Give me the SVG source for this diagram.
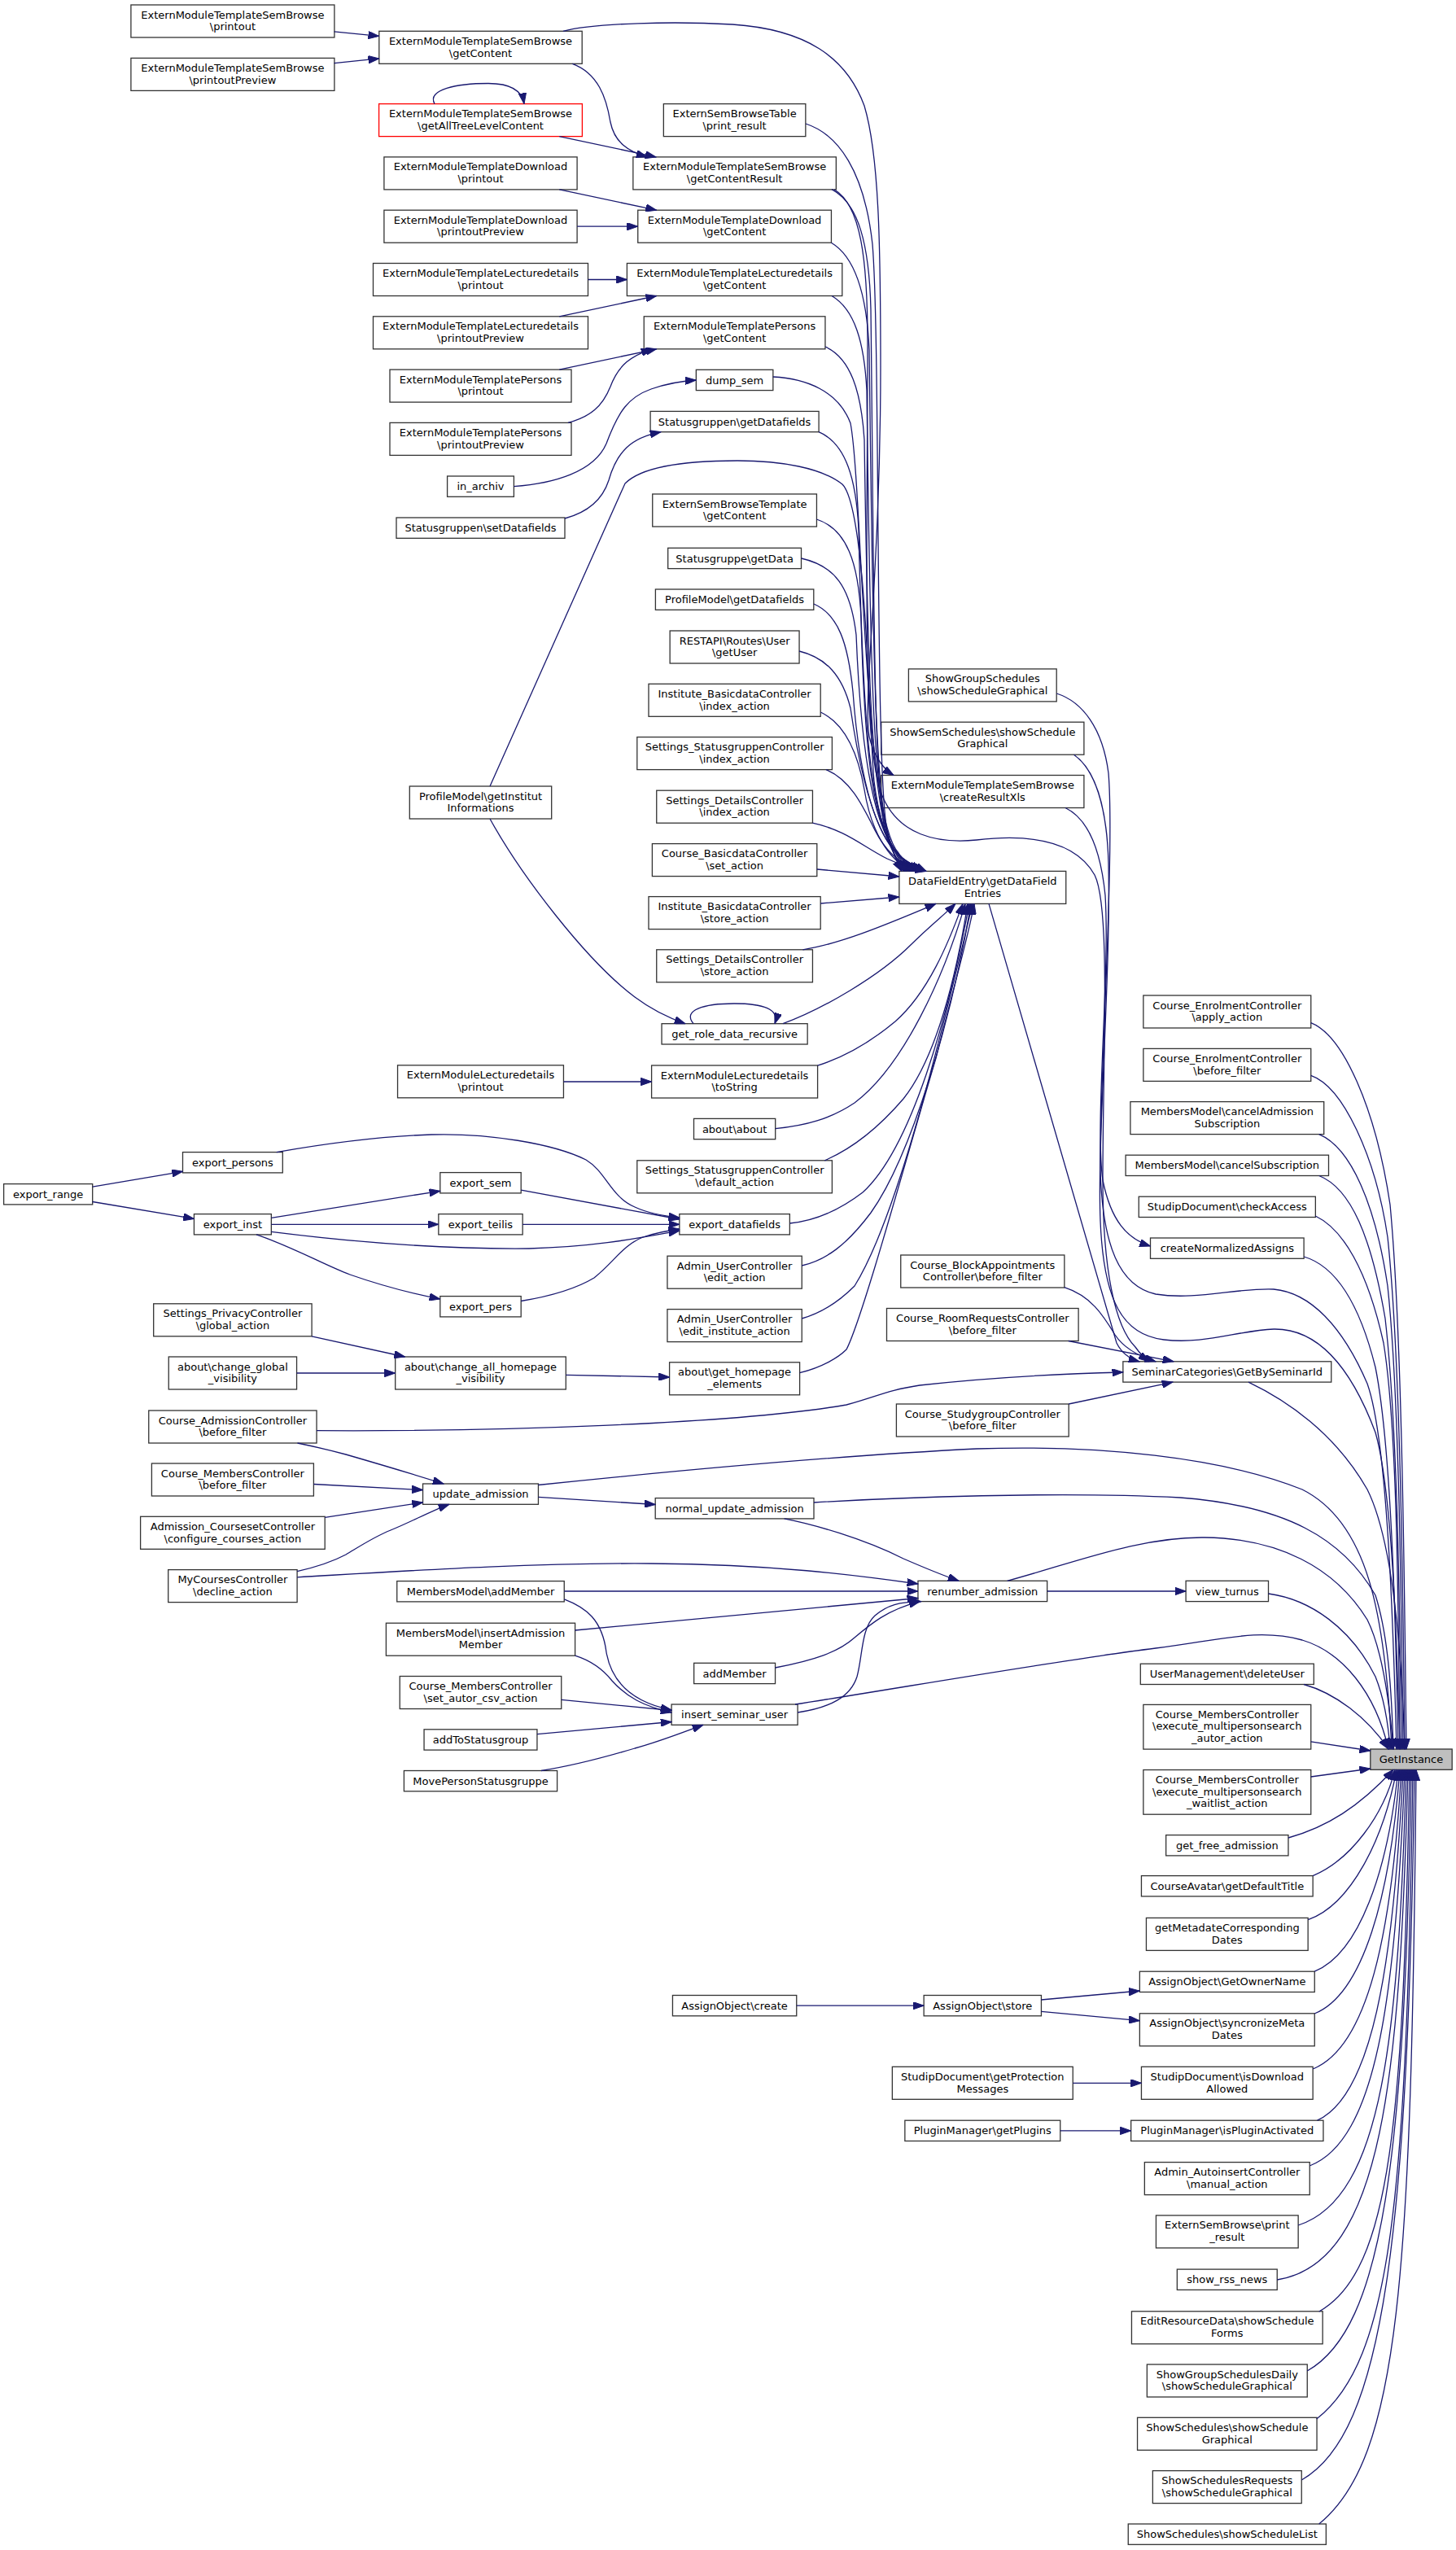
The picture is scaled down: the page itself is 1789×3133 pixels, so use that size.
<svg xmlns="http://www.w3.org/2000/svg" width="1789" height="3133" viewBox="0 0 1789 3133">
<defs>
<marker id="ah" markerUnits="userSpaceOnUse" markerWidth="14" markerHeight="9.4" viewBox="0 0 14 9.4" refX="13.3" refY="4.7" orient="auto"><path d="M0,0 L13.3,4.7 L0,9.4 z" fill="#191970" stroke="#191970" stroke-width="1"/></marker>
</defs>
<style>
.n rect{fill:#fff;stroke:#333;stroke-width:1.3}
.n text{font-family:"DejaVu Sans","Liberation Sans",sans-serif;font-size:13px;text-anchor:middle;fill:#000}
.red rect{stroke:#ff0000}
.root rect{fill:#bfbfbf;stroke:#333}
#edges path{fill:none;stroke:#191970;stroke-width:1.3;marker-end:url(#ah)}
</style>
<rect width="1789" height="3133" fill="#fff"/>
<g id="nodes">
<g id="n1" class="n"><rect x="160.9" y="6" width="250" height="40"/><text x="285.9" y="22.5">ExternModuleTemplateSemBrowse<tspan x="285.9" dy="14.7">\printout</tspan></text></g>
<g id="n2" class="n"><rect x="160.9" y="71.4" width="250" height="40"/><text x="285.9" y="87.9">ExternModuleTemplateSemBrowse<tspan x="285.9" dy="14.7">\printoutPreview</tspan></text></g>
<g id="n3" class="n"><rect x="465.8" y="38.3" width="249.4" height="40"/><text x="590.5" y="54.8">ExternModuleTemplateSemBrowse<tspan x="590.5" dy="14.7">\getContent</tspan></text></g>
<g id="n4" class="n red"><rect x="465.6" y="127.6" width="249.8" height="40"/><text x="590.5" y="144.1">ExternModuleTemplateSemBrowse<tspan x="590.5" dy="14.7">\getAllTreeLevelContent</tspan></text></g>
<g id="n5" class="n"><rect x="471.9" y="192.9" width="237.2" height="40"/><text x="590.5" y="209.4">ExternModuleTemplateDownload<tspan x="590.5" dy="14.7">\printout</tspan></text></g>
<g id="n6" class="n"><rect x="471.9" y="258.2" width="237.2" height="40"/><text x="590.5" y="274.7">ExternModuleTemplateDownload<tspan x="590.5" dy="14.7">\printoutPreview</tspan></text></g>
<g id="n7" class="n"><rect x="458.5" y="323.5" width="264" height="40"/><text x="590.5" y="340">ExternModuleTemplateLecturedetails<tspan x="590.5" dy="14.7">\printout</tspan></text></g>
<g id="n8" class="n"><rect x="458.5" y="388.8" width="264" height="40"/><text x="590.5" y="405.3">ExternModuleTemplateLecturedetails<tspan x="590.5" dy="14.7">\printoutPreview</tspan></text></g>
<g id="n9" class="n"><rect x="479" y="454.1" width="223" height="40"/><text x="590.5" y="470.6">ExternModuleTemplatePersons<tspan x="590.5" dy="14.7">\printout</tspan></text></g>
<g id="n10" class="n"><rect x="479" y="519.4" width="223" height="40"/><text x="590.5" y="535.9">ExternModuleTemplatePersons<tspan x="590.5" dy="14.7">\printoutPreview</tspan></text></g>
<g id="n11" class="n"><rect x="549.6" y="585" width="81.8" height="25.3"/><text x="590.5" y="602.2">in_archiv</text></g>
<g id="n12" class="n"><rect x="487" y="636" width="207" height="25.3"/><text x="590.5" y="653.2">Statusgruppen\setDatafields</text></g>
<g id="m1" class="n"><rect x="815.35" y="127.6" width="174.5" height="40"/><text x="902.6" y="144.1">ExternSemBrowseTable<tspan x="902.6" dy="14.7">\print_result</tspan></text></g>
<g id="m2" class="n"><rect x="777.85" y="192.9" width="249.5" height="40"/><text x="902.6" y="209.4">ExternModuleTemplateSemBrowse<tspan x="902.6" dy="14.7">\getContentResult</tspan></text></g>
<g id="m3" class="n"><rect x="783.75" y="258.2" width="237.7" height="40"/><text x="902.6" y="274.7">ExternModuleTemplateDownload<tspan x="902.6" dy="14.7">\getContent</tspan></text></g>
<g id="m4" class="n"><rect x="770.4" y="323.5" width="264.4" height="40"/><text x="902.6" y="340">ExternModuleTemplateLecturedetails<tspan x="902.6" dy="14.7">\getContent</tspan></text></g>
<g id="m5" class="n"><rect x="791.25" y="388.8" width="222.7" height="40"/><text x="902.6" y="405.3">ExternModuleTemplatePersons<tspan x="902.6" dy="14.7">\getContent</tspan></text></g>
<g id="m6" class="n"><rect x="855.35" y="454.3" width="94.5" height="25.3"/><text x="902.6" y="471.5">dump_sem</text></g>
<g id="m7" class="n"><rect x="799.1" y="505.4" width="207" height="25.3"/><text x="902.6" y="522.6">Statusgruppen\getDatafields</text></g>
<g id="m8" class="n"><rect x="801.75" y="607" width="201.7" height="40"/><text x="902.6" y="623.5">ExternSemBrowseTemplate<tspan x="902.6" dy="14.7">\getContent</tspan></text></g>
<g id="m9" class="n"><rect x="820.7" y="673.3" width="163.8" height="25.3"/><text x="902.6" y="690.5">Statusgruppe\getData</text></g>
<g id="m10" class="n"><rect x="805.4" y="724" width="194.4" height="25.3"/><text x="902.6" y="741.2">ProfileModel\getDatafields</text></g>
<g id="m11" class="n"><rect x="823.15" y="775" width="158.9" height="40"/><text x="902.6" y="791.5">RESTAPI\Routes\User<tspan x="902.6" dy="14.7">\getUser</tspan></text></g>
<g id="m12" class="n"><rect x="797" y="840.3" width="211.2" height="40"/><text x="902.6" y="856.8">Institute_BasicdataController<tspan x="902.6" dy="14.7">\index_action</tspan></text></g>
<g id="m13" class="n"><rect x="782.8" y="905.6" width="239.6" height="40"/><text x="902.6" y="922.1">Settings_StatusgruppenController<tspan x="902.6" dy="14.7">\index_action</tspan></text></g>
<g id="m14" class="n"><rect x="806.75" y="971.2" width="191.7" height="40"/><text x="902.6" y="987.7">Settings_DetailsController<tspan x="902.6" dy="14.7">\index_action</tspan></text></g>
<g id="m15" class="n"><rect x="801.4" y="1036.6" width="202.4" height="40"/><text x="902.6" y="1053.1">Course_BasicdataController<tspan x="902.6" dy="14.7">\set_action</tspan></text></g>
<g id="m16" class="n"><rect x="797" y="1101.6" width="211.2" height="40"/><text x="902.6" y="1118.1">Institute_BasicdataController<tspan x="902.6" dy="14.7">\store_action</tspan></text></g>
<g id="m17" class="n"><rect x="806.75" y="1166.8" width="191.7" height="40"/><text x="902.6" y="1183.3">Settings_DetailsController<tspan x="902.6" dy="14.7">\store_action</tspan></text></g>
<g id="m18" class="n"><rect x="813.05" y="1257.7" width="179.1" height="25.3"/><text x="902.6" y="1274.9">get_role_data_recursive</text></g>
<g id="m19" class="n"><rect x="800.6" y="1309" width="204" height="40"/><text x="902.6" y="1325.5">ExternModuleLecturedetails<tspan x="902.6" dy="14.7">\toString</tspan></text></g>
<g id="m20" class="n"><rect x="852.5" y="1374.4" width="100.2" height="25.3"/><text x="902.6" y="1391.6">about\about</text></g>
<g id="m21" class="n"><rect x="782.8" y="1425.8" width="239.6" height="40"/><text x="902.6" y="1442.3">Settings_StatusgruppenController<tspan x="902.6" dy="14.7">\default_action</tspan></text></g>
<g id="m22" class="n"><rect x="834.85" y="1491.6" width="135.5" height="25.3"/><text x="902.6" y="1508.8">export_datafields</text></g>
<g id="m23" class="n"><rect x="819.95" y="1543.2" width="165.3" height="40"/><text x="902.6" y="1559.7">Admin_UserController<tspan x="902.6" dy="14.7">\edit_action</tspan></text></g>
<g id="m24" class="n"><rect x="819.95" y="1608.6" width="165.3" height="40"/><text x="902.6" y="1625.1">Admin_UserController<tspan x="902.6" dy="14.7">\edit_institute_action</tspan></text></g>
<g id="m25" class="n"><rect x="822.6" y="1673.8" width="160" height="40"/><text x="902.6" y="1690.3">about\get_homepage<tspan x="902.6" dy="14.7">_elements</tspan></text></g>
<g id="l9" class="n"><rect x="805.2" y="1840.6" width="194.8" height="25.3"/><text x="902.6" y="1857.8">normal_update_admission</text></g>
<g id="l15" class="n"><rect x="852.65" y="2043.3" width="99.9" height="25.3"/><text x="902.6" y="2060.5">addMember</text></g>
<g id="l16" class="n"><rect x="825.1" y="2094" width="155" height="25.3"/><text x="902.6" y="2111.2">insert_seminar_user</text></g>
<g id="r9" class="n"><rect x="826.45" y="2451.5" width="152.3" height="25.3"/><text x="902.6" y="2468.7">AssignObject\create</text></g>
<g id="n13" class="n"><rect x="503.3" y="966" width="174.4" height="40"/><text x="590.5" y="982.5">ProfileModel\getInstitut<tspan x="590.5" dy="14.7">Informations</tspan></text></g>
<g id="n14" class="n"><rect x="488.55" y="1308.8" width="203.9" height="40"/><text x="590.5" y="1325.3">ExternModuleLecturedetails<tspan x="590.5" dy="14.7">\printout</tspan></text></g>
<g id="e4" class="n"><rect x="540.8" y="1440.6" width="99.4" height="25.3"/><text x="590.5" y="1457.8">export_sem</text></g>
<g id="e5" class="n"><rect x="538.85" y="1491.6" width="103.3" height="25.3"/><text x="590.5" y="1508.8">export_teilis</text></g>
<g id="e6" class="n"><rect x="540.8" y="1592.6" width="99.4" height="25.3"/><text x="590.5" y="1609.8">export_pers</text></g>
<g id="l3" class="n"><rect x="485.7" y="1667" width="209.6" height="40"/><text x="590.5" y="1683.5">about\change_all_homepage<tspan x="590.5" dy="14.7">_visibility</tspan></text></g>
<g id="l8" class="n"><rect x="519.55" y="1823" width="141.9" height="25.3"/><text x="590.5" y="1840.2">update_admission</text></g>
<g id="l10" class="n"><rect x="487.75" y="1942.6" width="205.5" height="25.3"/><text x="590.5" y="1959.8">MembersModel\addMember</text></g>
<g id="l11" class="n"><rect x="474.4" y="1994.2" width="232.2" height="40"/><text x="590.5" y="2010.7">MembersModel\insertAdmission<tspan x="590.5" dy="14.7">Member</tspan></text></g>
<g id="l12" class="n"><rect x="491.25" y="2059.5" width="198.5" height="40"/><text x="590.5" y="2076">Course_MembersController<tspan x="590.5" dy="14.7">\set_autor_csv_action</tspan></text></g>
<g id="l13" class="n"><rect x="521.05" y="2124.8" width="138.9" height="25.3"/><text x="590.5" y="2142">addToStatusgroup</text></g>
<g id="l14" class="n"><rect x="496.4" y="2175.5" width="188.2" height="25.3"/><text x="590.5" y="2192.7">MovePersonStatusgruppe</text></g>
<g id="e1" class="n"><rect x="4.6" y="1454.6" width="109.1" height="25.3"/><text x="59.15" y="1471.8">export_range</text></g>
<g id="e2" class="n"><rect x="224.5" y="1415.6" width="122.8" height="25.3"/><text x="285.9" y="1432.8">export_persons</text></g>
<g id="e3" class="n"><rect x="238.45" y="1491.6" width="94.9" height="25.3"/><text x="285.9" y="1508.8">export_inst</text></g>
<g id="l1" class="n"><rect x="188.7" y="1601.8" width="194.4" height="40"/><text x="285.9" y="1618.3">Settings_PrivacyController<tspan x="285.9" dy="14.7">\global_action</tspan></text></g>
<g id="l2" class="n"><rect x="207.25" y="1667" width="157.3" height="40"/><text x="285.9" y="1683.5">about\change_global<tspan x="285.9" dy="14.7">_visibility</tspan></text></g>
<g id="l4" class="n"><rect x="182.75" y="1733" width="206.3" height="40"/><text x="285.9" y="1749.5">Course_AdmissionController<tspan x="285.9" dy="14.7">\before_filter</tspan></text></g>
<g id="l5" class="n"><rect x="186.4" y="1798" width="199" height="40"/><text x="285.9" y="1814.5">Course_MembersController<tspan x="285.9" dy="14.7">\before_filter</tspan></text></g>
<g id="l6" class="n"><rect x="172.6" y="1863.3" width="226.6" height="40"/><text x="285.9" y="1879.8">Admission_CoursesetController<tspan x="285.9" dy="14.7">\configure_courses_action</tspan></text></g>
<g id="l7" class="n"><rect x="206.7" y="1928.6" width="158.4" height="40"/><text x="285.9" y="1945.1">MyCoursesController<tspan x="285.9" dy="14.7">\decline_action</tspan></text></g>
<g id="r1" class="n"><rect x="1116.4" y="821.9" width="181.8" height="40"/><text x="1207.3" y="838.4">ShowGroupSchedules<tspan x="1207.3" dy="14.7">\showScheduleGraphical</tspan></text></g>
<g id="r2" class="n"><rect x="1082.7" y="887.2" width="249.2" height="40"/><text x="1207.3" y="903.7">ShowSemSchedules\showSchedule<tspan x="1207.3" dy="14.7">Graphical</tspan></text></g>
<g id="r3" class="n"><rect x="1082.7" y="952.5" width="249.2" height="40"/><text x="1207.3" y="969">ExternModuleTemplateSemBrowse<tspan x="1207.3" dy="14.7">\createResultXls</tspan></text></g>
<g id="r4" class="n"><rect x="1104.85" y="1070.4" width="204.9" height="40"/><text x="1207.3" y="1086.9">DataFieldEntry\getDataField<tspan x="1207.3" dy="14.7">Entries</tspan></text></g>
<g id="r5" class="n"><rect x="1106.75" y="1542" width="201.1" height="40"/><text x="1207.3" y="1558.5">Course_BlockAppointments<tspan x="1207.3" dy="14.7">Controller\before_filter</tspan></text></g>
<g id="r6" class="n"><rect x="1089.5" y="1607.5" width="235.6" height="40"/><text x="1207.3" y="1624">Course_RoomRequestsController<tspan x="1207.3" dy="14.7">\before_filter</tspan></text></g>
<g id="r8" class="n"><rect x="1101.4" y="1725" width="211.8" height="40"/><text x="1207.3" y="1741.5">Course_StudygroupController<tspan x="1207.3" dy="14.7">\before_filter</tspan></text></g>
<g id="l17" class="n"><rect x="1127.95" y="1942.3" width="158.7" height="25.3"/><text x="1207.3" y="1959.5">renumber_admission</text></g>
<g id="r10" class="n"><rect x="1135.15" y="2451.5" width="144.3" height="25.3"/><text x="1207.3" y="2468.7">AssignObject\store</text></g>
<g id="r11" class="n"><rect x="1096.35" y="2539.3" width="221.9" height="40"/><text x="1207.3" y="2555.8">StudipDocument\getProtection<tspan x="1207.3" dy="14.7">Messages</tspan></text></g>
<g id="r12" class="n"><rect x="1111.85" y="2605.2" width="190.9" height="25.3"/><text x="1207.3" y="2622.4">PluginManager\getPlugins</text></g>
<g id="c1" class="n"><rect x="1404.85" y="1223" width="205.9" height="40"/><text x="1507.8" y="1239.5">Course_EnrolmentController<tspan x="1507.8" dy="14.7">\apply_action</tspan></text></g>
<g id="c2" class="n"><rect x="1404.85" y="1288.4" width="205.9" height="40"/><text x="1507.8" y="1304.9">Course_EnrolmentController<tspan x="1507.8" dy="14.7">\before_filter</tspan></text></g>
<g id="c3" class="n"><rect x="1388.9" y="1353.6" width="237.8" height="40"/><text x="1507.8" y="1370.1">MembersModel\cancelAdmission<tspan x="1507.8" dy="14.7">Subscription</tspan></text></g>
<g id="c4" class="n"><rect x="1383.1" y="1419.2" width="249.4" height="25.3"/><text x="1507.8" y="1436.4">MembersModel\cancelSubscription</text></g>
<g id="c5" class="n"><rect x="1399.25" y="1470.2" width="217.1" height="25.3"/><text x="1507.8" y="1487.4">StudipDocument\checkAccess</text></g>
<g id="c6" class="n"><rect x="1413.5" y="1521" width="188.6" height="25.3"/><text x="1507.8" y="1538.2">createNormalizedAssigns</text></g>
<g id="sc" class="n"><rect x="1379.85" y="1672.8" width="255.9" height="25.3"/><text x="1507.8" y="1690">SeminarCategories\GetBySeminarId</text></g>
<g id="vt" class="n"><rect x="1457.1" y="1942.3" width="101.4" height="25.3"/><text x="1507.8" y="1959.5">view_turnus</text></g>
<g id="c7" class="n"><rect x="1401.3" y="2044.2" width="213" height="25.3"/><text x="1507.8" y="2061.4">UserManagement\deleteUser</text></g>
<g id="c8" class="n"><rect x="1404.85" y="2094.4" width="205.9" height="54.7"/><text x="1507.8" y="2110.9">Course_MembersController<tspan x="1507.8" dy="14.5">\execute_multipersonsearch</tspan><tspan x="1507.8" dy="14.5">_autor_action</tspan></text></g>
<g id="gi" class="n root"><rect x="1683.8" y="2149" width="100.4" height="25.3"/><text x="1734" y="2166.2">GetInstance</text></g>
<g id="c9" class="n"><rect x="1404.85" y="2174.5" width="205.9" height="54.7"/><text x="1507.8" y="2191">Course_MembersController<tspan x="1507.8" dy="14.5">\execute_multipersonsearch</tspan><tspan x="1507.8" dy="14.5">_waitlist_action</tspan></text></g>
<g id="c10" class="n"><rect x="1432.65" y="2254.6" width="150.3" height="25.3"/><text x="1507.8" y="2271.8">get_free_admission</text></g>
<g id="c11" class="n"><rect x="1402.45" y="2304.6" width="210.7" height="25.3"/><text x="1507.8" y="2321.8">CourseAvatar\getDefaultTitle</text></g>
<g id="c12" class="n"><rect x="1408.45" y="2356.4" width="198.7" height="40"/><text x="1507.8" y="2372.9">getMetadateCorresponding<tspan x="1507.8" dy="14.7">Dates</tspan></text></g>
<g id="c13" class="n"><rect x="1400.35" y="2422.2" width="214.9" height="25.3"/><text x="1507.8" y="2439.4">AssignObject\GetOwnerName</text></g>
<g id="c14" class="n"><rect x="1400.35" y="2473.8" width="214.9" height="40"/><text x="1507.8" y="2490.3">AssignObject\syncronizeMeta<tspan x="1507.8" dy="14.7">Dates</tspan></text></g>
<g id="c15" class="n"><rect x="1402.45" y="2539.3" width="210.7" height="40"/><text x="1507.8" y="2555.8">StudipDocument\isDownload<tspan x="1507.8" dy="14.7">Allowed</tspan></text></g>
<g id="c16" class="n"><rect x="1389.65" y="2605.2" width="236.3" height="25.3"/><text x="1507.8" y="2622.4">PluginManager\isPluginActivated</text></g>
<g id="c17" class="n"><rect x="1406.35" y="2656.6" width="202.9" height="40"/><text x="1507.8" y="2673.1">Admin_AutoinsertController<tspan x="1507.8" dy="14.7">\manual_action</tspan></text></g>
<g id="c18" class="n"><rect x="1420.45" y="2721.9" width="174.7" height="40"/><text x="1507.8" y="2738.4">ExternSemBrowse\print<tspan x="1507.8" dy="14.7">_result</tspan></text></g>
<g id="c19" class="n"><rect x="1446.35" y="2788.1" width="122.9" height="25.3"/><text x="1507.8" y="2805.3">show_rss_news</text></g>
<g id="c20" class="n"><rect x="1390.45" y="2839.8" width="234.7" height="40"/><text x="1507.8" y="2856.3">EditResourceData\showSchedule<tspan x="1507.8" dy="14.7">Forms</tspan></text></g>
<g id="c21" class="n"><rect x="1409.35" y="2905" width="196.9" height="40"/><text x="1507.8" y="2921.5">ShowGroupSchedulesDaily<tspan x="1507.8" dy="14.7">\showScheduleGraphical</tspan></text></g>
<g id="c22" class="n"><rect x="1397.55" y="2970.3" width="220.5" height="40"/><text x="1507.8" y="2986.8">ShowSchedules\showSchedule<tspan x="1507.8" dy="14.7">Graphical</tspan></text></g>
<g id="c23" class="n"><rect x="1416.35" y="3035.6" width="182.9" height="40"/><text x="1507.8" y="3052.1">ShowSchedulesRequests<tspan x="1507.8" dy="14.7">\showScheduleGraphical</tspan></text></g>
<g id="c24" class="n"><rect x="1386.25" y="3101" width="243.1" height="25.3"/><text x="1507.8" y="3118.2">ShowSchedules\showScheduleList</text></g>
</g>
<g id="edges">
<path d="M410.6,38.8 L465.8,44.4"/>
<path d="M410.6,77.6 L465.8,71.9"/>
<path d="M534,127.6 C524,110 562,102.5 600,102.5 C624,102.5 641,109 644,127.6"/>
<path d="M703.3,78.3 C735,90 745,120 750,150 C755,175 772,186 795,192.9"/>
<path d="M687.3,167.6 L806,192.9"/>
<path d="M687.3,232.9 L806.7,258.2"/>
<path d="M709.1,278.2 L783.7,278.2"/>
<path d="M722.5,343.5 L770.4,343.5"/>
<path d="M687.3,388.8 L806.7,363.5"/>
<path d="M687.3,454.1 L806.7,428.8"/>
<path d="M698,519.4 C725,512 740,500 750,475 C760,448 776,437 801,428.8"/>
<path d="M631.4,597.6 C680,594 730,580 745,545 C760,505 772,488 800,478 C820,471 840,468 855.3,467"/>
<path d="M694,637 C720,630 740,615 748,590 C758,555 775,538 812,530.7"/>
<path d="M692,38.3 C730,28 830,26 900,30 C990,36 1040,70 1062,130 C1080,190 1082,300 1082,450 C1082,700 1060,860 1068,905 C1074,930 1086,945 1098,952.5"/>
<path d="M990,152 C1030,165 1062,210 1072,300 C1082,420 1075,950 1090,1020 C1096,1045 1102,1060 1108,1070.4"/>
<path d="M1022,232.7 C1055,250 1068,300 1070,380 C1074,700 1072,980 1090,1030 C1098,1050 1105,1062 1111,1070.4"/>
<path d="M1025,232.7 C1058,252 1066,320 1066,420 C1066,700 1058,920 1085,980 C1105,1025 1150,1037 1200,1032 C1260,1025 1320,1030 1345,1075 C1365,1115 1355,1300 1355,1450 C1355,1560 1370,1630 1395,1655 C1400,1662 1405,1668 1412,1672.8"/>
<path d="M1021.4,298.2 C1050,315 1065,360 1068,430 C1072,750 1074,990 1094,1035 C1102,1052 1108,1063 1114,1070.4"/>
<path d="M1022,363.5 C1050,380 1062,420 1065,480 C1069,800 1072,1000 1097,1040 C1105,1055 1111,1064 1117,1070.4"/>
<path d="M1014.1,426 C1045,440 1058,480 1062,540 C1066,820 1070,1010 1100,1045 C1108,1057 1114,1065 1120,1070.4"/>
<path d="M949.8,463 C990,465 1030,480 1045,520 C1060,600 1060,1000 1104,1048 C1110,1058 1116,1065 1123,1070.4"/>
<path d="M1006,530.7 C1040,545 1052,590 1055,650 C1060,880 1068,1020 1107,1052 C1114,1060 1119,1066 1126,1070.4"/>
<path d="M1003.4,638 C1040,650 1055,690 1058,760 C1062,920 1072,1030 1110,1055 C1117,1061 1122,1066 1129,1070.4"/>
<path d="M984.6,686 C1025,695 1045,720 1052,780 C1058,930 1075,1035 1113,1057 C1120,1062 1125,1066 1132,1070.4"/>
<path d="M999.9,742 C1030,755 1042,790 1048,850 C1056,960 1078,1040 1116,1059 C1123,1063 1128,1067 1135,1070.4"/>
<path d="M982,800 C1015,808 1035,830 1045,870 C1058,960 1080,1045 1119,1061 C1126,1064 1131,1067 1138,1070.4"/>
<path d="M602,966 L768,594 C790,572 850,566 906,566 C960,566 1010,575 1035,595 C1065,625 1068,900 1074,960 C1080,1010 1095,1048 1112,1070.4"/>
<path d="M1008.3,875 C1040,890 1055,930 1062,970 C1070,1020 1090,1055 1120,1070.4"/>
<path d="M1015,945.6 C1045,958 1060,990 1075,1020 C1085,1040 1100,1058 1126,1070.4"/>
<path d="M998.4,1011.2 C1040,1020 1060,1040 1090,1055 C1105,1062 1120,1067 1138,1070.4"/>
<path d="M1003.8,1068 L1104.85,1077"/>
<path d="M1008.2,1110 L1104.85,1102"/>
<path d="M986.5,1166.8 C1030,1160 1080,1140 1150,1110.4"/>
<path d="M602,1006 C640,1075 720,1180 780,1225 C800,1240 820,1250 842,1257.7"/>
<path d="M852,1257.7 C838,1241 865,1233 902,1233 C938,1233 958,1240 952,1257.7"/>
<path d="M962,1257.7 C1010,1240 1080,1200 1120,1160 C1140,1140 1160,1124 1174,1110.4"/>
<path d="M692.5,1329 L800.6,1329"/>
<path d="M1004.6,1309.2 C1040,1298 1070,1280 1100,1255 C1140,1220 1165,1160 1183,1110.4"/>
<path d="M952.7,1386.7 C990,1383 1020,1375 1050,1355 C1110,1310 1160,1200 1186,1110.4"/>
<path d="M1013.3,1425.8 C1050,1410 1080,1385 1110,1350 C1150,1300 1175,1200 1189,1110.4"/>
<path d="M970.4,1503 C1000,1500 1030,1488 1060,1465 C1120,1410 1165,1250 1191,1110.4"/>
<path d="M985.2,1555 C1015,1548 1040,1530 1070,1490 C1120,1420 1170,1250 1193,1110.4"/>
<path d="M985.2,1620 C1010,1613 1030,1600 1050,1580 C1100,1500 1150,1300 1195,1110.4"/>
<path d="M982.6,1686.7 C1010,1680 1030,1668 1040,1658 C1060,1620 1120,1400 1150,1300 C1175,1200 1190,1150 1197,1110.4"/>
<path d="M113.7,1458.2 L224.5,1439.3"/>
<path d="M113.7,1476.5 L238.45,1497.4"/>
<path d="M333.3,1496.4 L540.8,1463.3"/>
<path d="M333.3,1504.3 L538.85,1504.3"/>
<path d="M333.3,1513.3 C450,1528 550,1535 650,1534 C730,1532 780,1522 834.85,1512"/>
<path d="M315,1516.9 C360,1532 400,1555 430,1566 C470,1580 510,1590 540.8,1596"/>
<path d="M339.8,1415.6 C400,1405 470,1396 530,1394 C600,1392 680,1405 720,1425 C745,1440 750,1470 780,1483 C795,1490 815,1494 834.85,1496"/>
<path d="M640.2,1462.2 L834.85,1498"/>
<path d="M642.1,1504.3 L834.85,1504.3"/>
<path d="M640.2,1598.5 C680,1592 710,1582 730,1570 C755,1550 765,1530 790,1520 C805,1515 820,1512 834.85,1510"/>
<path d="M383.1,1641.8 L497.5,1667"/>
<path d="M364.5,1687 L485.7,1687"/>
<path d="M695.3,1689.3 L822.6,1692"/>
<path d="M365.5,1773 C390,1778 410,1783 425,1787 C470,1800 510,1812 545,1823"/>
<path d="M385.4,1823.5 L519.55,1830.6"/>
<path d="M399.2,1864.3 L519.55,1846"/>
<path d="M365.1,1930.6 C390,1925 410,1918 425,1910 C445,1898 460,1888 480,1880 C505,1870 530,1856 552,1848.3"/>
<path d="M389,1757.7 C600,1759 900,1750 1040,1726 C1080,1715 1090,1708 1130,1702 C1220,1692 1300,1688 1379.85,1686"/>
<path d="M365.1,1937.8 C500,1930 650,1920 800,1921 C950,1922 1050,1935 1127.95,1946"/>
<path d="M661.4,1839.3 L805.2,1848.5"/>
<path d="M661.4,1824.5 C800,1810 1000,1790 1200,1780 C1350,1775 1500,1790 1600,1830 C1680,1870 1702,1980 1710,2149"/>
<path d="M1000,1846 C1100,1840 1300,1832 1450,1840 C1580,1850 1650,1890 1690,1960 C1706,2010 1710,2080 1712,2149"/>
<path d="M963.6,1865.9 C1000,1873 1060,1890 1110,1915 C1140,1928 1160,1936 1178,1942.3"/>
<path d="M693.3,1955 L1127.95,1955"/>
<path d="M706.6,2003 L1127.95,1963.5"/>
<path d="M952.5,2049 C1000,2040 1030,2030 1050,2012 C1070,1995 1090,1978 1130,1967.6"/>
<path d="M980.1,2104 C1020,2098 1045,2085 1053,2060 C1060,2035 1058,2000 1075,1985 C1090,1972 1105,1968 1132,1967.6"/>
<path d="M977,2094 C1100,2075 1300,2040 1420,2025 C1500,2015 1545,2000 1600,2015 C1650,2030 1690,2080 1706,2149"/>
<path d="M693.3,1964.8 C720,1975 740,1990 745,2030 C752,2070 780,2092 825.1,2101"/>
<path d="M706.6,2034.2 C725,2040 740,2050 752,2065 C770,2085 790,2096 825.1,2104"/>
<path d="M689.8,2088.3 L825.1,2101.5"/>
<path d="M660,2130.6 L825.1,2115.5"/>
<path d="M665,2175.5 C700,2170 740,2160 780,2148 C810,2140 840,2128 864,2119.3"/>
<path d="M1286.7,1955 L1457.1,1955"/>
<path d="M1558.5,1958 C1610,1965 1660,2000 1690,2060 C1702,2090 1706,2120 1708,2149"/>
<path d="M1237.6,1942.3 C1320,1920 1400,1888 1480,1889 C1570,1890 1640,1925 1680,1990 C1700,2030 1708,2100 1712,2149"/>
<path d="M1298.2,852 C1330,862 1355,895 1362,950 C1370,1050 1350,1350 1352,1440 C1355,1530 1375,1580 1420,1590 C1470,1598 1520,1582 1565,1584 C1610,1588 1650,1630 1680,1700 C1705,1770 1712,2000 1716,2149"/>
<path d="M1319.5,927.2 C1345,945 1360,990 1362,1060 C1365,1200 1348,1400 1352,1500 C1356,1600 1380,1640 1430,1646 C1480,1652 1520,1635 1565,1633 C1620,1632 1660,1680 1690,1760 C1710,1830 1716,2000 1720,2149"/>
<path d="M1309,992.5 C1335,1005 1352,1040 1358,1100 C1364,1200 1345,1380 1355,1450 C1365,1500 1385,1522 1413.5,1531"/>
<path d="M1215,1110.4 L1372,1650 C1378,1662 1386,1669 1400,1672.8"/>
<path d="M1307.8,1581.6 C1340,1592 1355,1615 1370,1640 C1380,1655 1395,1665 1420,1672.8"/>
<path d="M1312.7,1647.5 L1442,1672.8"/>
<path d="M1313.2,1725 L1441,1698.1"/>
<path d="M1534,1698.1 C1580,1720 1640,1760 1680,1830 C1710,1890 1722,2020 1726,2149"/>
<path d="M1602.1,1544 C1640,1555 1670,1600 1690,1680 C1710,1780 1715,2000 1718,2149"/>
<path d="M1616.3,1494 C1650,1510 1680,1560 1700,1650 C1718,1760 1718,2000 1720,2149"/>
<path d="M1620.7,1444.5 C1660,1460 1685,1520 1702,1620 C1718,1760 1720,2000 1722,2149"/>
<path d="M1620.7,1393.6 C1660,1410 1690,1480 1705,1580 C1720,1720 1722,2000 1724,2149"/>
<path d="M1610.7,1321.4 C1650,1335 1690,1420 1705,1520 C1722,1680 1724,2000 1726,2149"/>
<path d="M1610.7,1256.6 C1650,1272 1690,1360 1708,1480 C1724,1650 1726,2000 1728,2149"/>
<path d="M1602,2069.5 C1640,2080 1680,2110 1706,2149"/>
<path d="M1610.7,2139.8 L1683.8,2151"/>
<path d="M1610.7,2183 L1683.8,2173"/>
<path d="M1583,2258 C1630,2245 1670,2220 1712,2174.3"/>
<path d="M1613.2,2304.6 C1660,2285 1700,2230 1714,2174.3"/>
<path d="M1607.2,2358.7 C1660,2340 1700,2260 1716,2174.3"/>
<path d="M1615.2,2422.2 C1670,2400 1705,2300 1718,2174.3"/>
<path d="M1615.2,2474 C1675,2450 1708,2330 1720,2174.3"/>
<path d="M1613.2,2542 C1680,2515 1710,2380 1722,2174.3"/>
<path d="M1618.5,2605.2 C1685,2575 1712,2420 1724,2174.3"/>
<path d="M1609.2,2661 C1690,2630 1715,2460 1726,2174.3"/>
<path d="M1595.2,2734 C1700,2700 1718,2500 1728,2174.3"/>
<path d="M1569.3,2801 C1700,2780 1720,2550 1730,2174.3"/>
<path d="M1620.7,2840 C1710,2790 1724,2600 1732,2174.3"/>
<path d="M1606.2,2913 C1700,2860 1726,2650 1734,2174.3"/>
<path d="M1617.7,2972 C1710,2900 1728,2700 1736,2174.3"/>
<path d="M1599.3,3047 C1700,2990 1730,2750 1738,2174.3"/>
<path d="M1620.7,3101 C1720,3020 1734,2800 1740,2174.3"/>
<path d="M1279.4,2457 L1400.35,2446"/>
<path d="M1279.4,2471.4 L1400.35,2482.7"/>
<path d="M978.8,2464.2 L1135.15,2464.2"/>
<path d="M1318.3,2559.3 L1402.45,2559.3"/>
<path d="M1302.7,2617.9 L1389.65,2617.9"/>
</g>
</svg>
